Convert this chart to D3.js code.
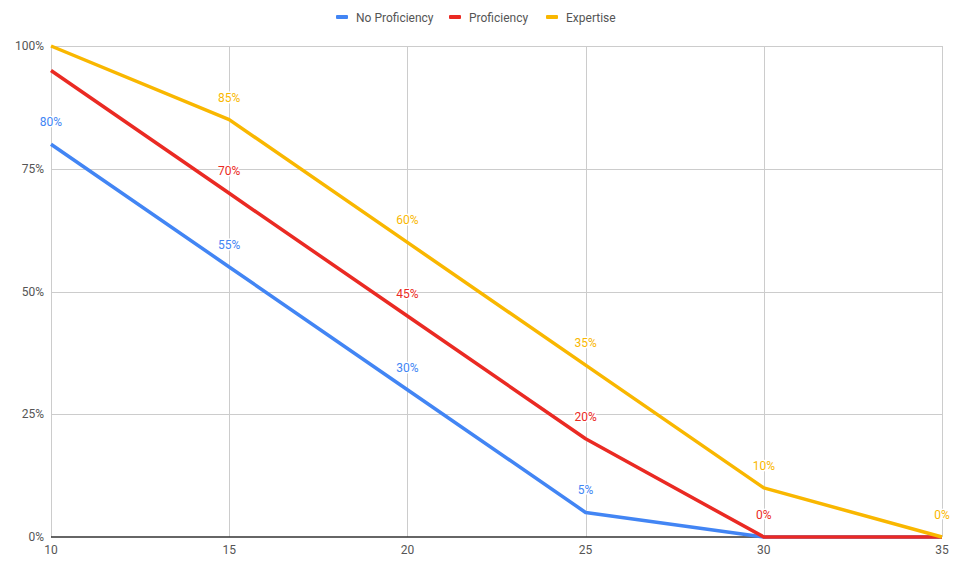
<!DOCTYPE html>
<html>
<head>
<meta charset="utf-8">
<script src="https://cdn.jsdelivr.net/npm/d3@7"></script>
<style>
  body { margin: 0; background: #fff; }
  svg { font-family: Roboto, "Noto Sans", sans-serif; }
</style>
</head>
<body>
<div id="chart"></div>
<script>
// x values (level-ish steps)
const xValues = [10, 15, 20, 25, 30, 35];
const seriesNames = ['No Proficiency', 'Proficiency', 'Expertise'];
const seriesColors = ['#4285f4', '#ea2a23', '#f9b700'];

const noProficiency = [80, 55, 30, 5, 0, 0];
const proficiency   = [95, 70, 45, 20, 0, 0];
const expertise     = [100, 85, 60, 35, 10, 0];

// which point labels the chart actually shows (others hidden by overlap)
const showNoProf = [true, true, true, true, false, false];
const showProf   = [false, true, true, true, true, false];
const showExp    = [false, true, true, true, true, true];

const xTicks = [10, 15, 20, 25, 30, 35];
const yTicks = [0, 25, 50, 75, 100];

const series = [noProficiency, proficiency, expertise].map((vals, i) => ({
  name: seriesNames[i],
  color: seriesColors[i],
  show: [showNoProf, showProf, showExp][i],
  points: vals.map((v, j) => ({ x: xValues[j], y: v }))
}));

const W = 969, H = 571;
const margin = { top: 46, right: 27, bottom: 34, left: 51 };
const width = W - margin.left - margin.right;
const height = H - margin.top - margin.bottom;

const svg = d3.select('#chart').append('svg')
  .attr('width', W)
  .attr('height', H);

const g = svg.append('g')
  .attr('transform', `translate(${margin.left},${margin.top})`);

const x = d3.scaleLinear().domain([10, 35]).range([0, width]);
const y = d3.scaleLinear().domain([0, 100]).range([height, 0]);

// gridlines
g.selectAll('line.vgrid')
  .data(xTicks)
  .enter().append('line')
  .attr('class', 'vgrid')
  .attr('x1', d => Math.round(x(d)) + 0.5)
  .attr('x2', d => Math.round(x(d)) + 0.5)
  .attr('y1', 0)
  .attr('y2', height)
  .style('stroke', '#cccccc')
  .style('stroke-width', 1);

g.selectAll('line.hgrid')
  .data(yTicks.filter(d => d > 0))
  .enter().append('line')
  .attr('class', 'hgrid')
  .attr('x1', 0)
  .attr('x2', width)
  .attr('y1', d => Math.round(y(d)) + 0.5)
  .attr('y2', d => Math.round(y(d)) + 0.5)
  .style('stroke', '#cccccc');

// baseline
g.append('line')
  .attr('x1', 0).attr('x2', width)
  .attr('y1', y(0)).attr('y2', y(0))
  .style('stroke', '#333')
  .style('stroke-width', 1.3);

// axis labels
g.selectAll('text.ylab')
  .data(yTicks)
  .enter().append('text')
  .attr('class', 'ylab')
  .attr('x', -7)
  .attr('y', d => y(d) + 4)
  .attr('text-anchor', 'end')
  .style('font-size', '12px')
  .style('fill', '#555')
  .text(d => d + '%');

g.selectAll('text.xlab')
  .data(xTicks)
  .enter().append('text')
  .attr('class', 'xlab')
  .attr('x', d => x(d))
  .attr('y', height + 17)
  .attr('text-anchor', 'middle')
  .style('font-size', '12px')
  .style('fill', '#555')
  .text(d => d);

// lines
const line = d3.line()
  .x(d => x(d.x))
  .y(d => y(d.y));

g.selectAll('path.series')
  .data(series)
  .enter().append('path')
  .attr('class', 'series')
  .attr('d', d => line(d.points))
  .style('fill', 'none')
  .style('stroke', d => d.color)
  .style('stroke-width', 3.5)
  .style('stroke-linejoin', 'round');

// point labels (white halo like the original)
series.forEach(s => {
  g.selectAll(null)
    .data(s.points.filter((p, i) => s.show[i]))
    .enter().append('text')
    .attr('x', d => x(d.x))
    .attr('y', d => y(d.y) - 18)
    .attr('text-anchor', 'middle')
    .style('font-size', '12px')
    .style('fill', s.color)
    .style('stroke', '#fff')
    .style('stroke-width', 3)
    .style('stroke-linejoin', 'round')
    .style('paint-order', 'stroke')
    .text(d => d.y + '%');
});

// legend
const legendX = [336, 449, 546];
const legend = svg.selectAll('g.legend')
  .data(series)
  .enter().append('g')
  .attr('class', 'legend')
  .attr('transform', (d, i) => `translate(${legendX[i]},17)`);

legend.append('rect')
  .attr('x', 0).attr('y', -2)
  .attr('width', 12).attr('height', 4)
  .attr('rx', 1)
  .style('fill', d => d.color);

legend.append('text')
  .attr('x', 20)
  .attr('y', 4.5)
  .style('font-size', '12px')
  .style('fill', '#555')
  .text(d => d.name);
</script>
</body>
</html>
